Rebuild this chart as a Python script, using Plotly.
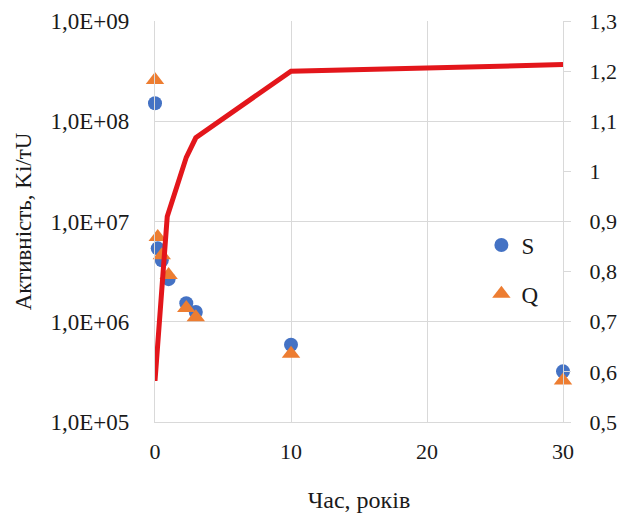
import plotly.graph_objects as go

# Data
t_pts = [0, 0.2, 0.5, 1, 2.3, 3, 10, 30]
S_vals = [1.51e8, 5.4e6, 4.1e6, 2.66e6, 1.53e6, 1.25e6, 5.9e5, 3.2e5]
Q_vals = [2.58e8, 7.0e6, 4.6e6, 2.92e6, 1.37e6, 1.11e6, 4.8e5, 2.6e5]

t_line = [0, 0.9, 2.3, 3, 10, 20, 30]
line_vals = [0.582, 0.910, 1.028, 1.067, 1.200, 1.207, 1.213]

left_tickvals = [1e5, 1e6, 1e7, 1e8, 1e9]
left_ticktext = ["1,0E+05", "1,0E+06", "1,0E+07", "1,0E+08", "1,0E+09"]
right_tickvals = [0.5, 0.6, 0.7, 0.8, 0.9, 1.0, 1.1, 1.2, 1.3]
right_ticktext = ["0,5", "0,6", "0,7", "0,8", "0,9", "1", "1,1", "1,2", "1,3"]
x_tickvals = [0, 10, 20, 30]

FONT = "Liberation Serif, Times New Roman, serif"
GRID = "#d9d9d9"

fig = go.Figure()
fig.add_trace(go.Scatter(
    x=t_pts, y=S_vals, mode="markers", name="S", legendgroup="S",
    marker=dict(symbol="circle", size=14, color="#4472C4"),
    cliponaxis=False,
))
fig.add_trace(go.Scatter(
    x=t_pts, y=Q_vals, mode="markers", name="Q", legendgroup="Q",
    marker=dict(symbol="triangle-up", size=16, color="#ED7D31"),
    cliponaxis=False,
))
fig.add_trace(go.Scatter(
    x=t_line, y=line_vals, mode="lines", name="line", showlegend=False,
    line=dict(color="#E3161B", width=5), yaxis="y2",
))

fig.update_layout(
    width=625, height=514,
    margin=dict(l=155, r=62, t=21, b=92, autoexpand=False),
    paper_bgcolor="white", plot_bgcolor="white",
    font=dict(family=FONT, color="#1a1a1a", size=22),
    xaxis=dict(
        range=[0, 30], tickvals=x_tickvals, ticktext=[str(v) for v in x_tickvals],
        showgrid=True, gridcolor=GRID, gridwidth=1.3,
        showline=True, linecolor=GRID, linewidth=1.3,
        zeroline=False, ticks="", ticklabelstandoff=9, automargin=False,
        title=dict(text="Час, років", font=dict(size=24, family=FONT), standoff=28),
        tickfont=dict(size=22, family=FONT),
    ),
    yaxis=dict(
        type="log", range=[5, 9], tickvals=left_tickvals, ticktext=left_ticktext,
        showgrid=True, gridcolor=GRID, gridwidth=1.3,
        showline=True, linecolor=GRID, linewidth=1.3,
        zeroline=False, ticks="", ticklabelstandoff=20, automargin=False,
        title=dict(text="Активність, Ki/тU", font=dict(size=23, family=FONT), standoff=12),
        tickfont=dict(size=23, family=FONT),
    ),
    yaxis2=dict(
        overlaying="y", side="right", range=[0.5, 1.3],
        tickvals=right_tickvals, ticktext=right_ticktext,
        showgrid=False, showline=True, linecolor=GRID, linewidth=1.3,
        ticks="outside", ticklen=7, tickcolor=GRID, tickwidth=1.3,
        zeroline=False, ticklabelstandoff=14, automargin=False,
        tickfont=dict(size=22, family=FONT),
    ),
    legend=dict(
        x=0.80, y=0.495, xanchor="left", yanchor="top",
        bgcolor="rgba(0,0,0,0)", font=dict(size=23, family=FONT),
        tracegroupgap=16, traceorder="grouped", itemwidth=30,
    ),
    showlegend=True,
)

fig.write_html("out.html")
